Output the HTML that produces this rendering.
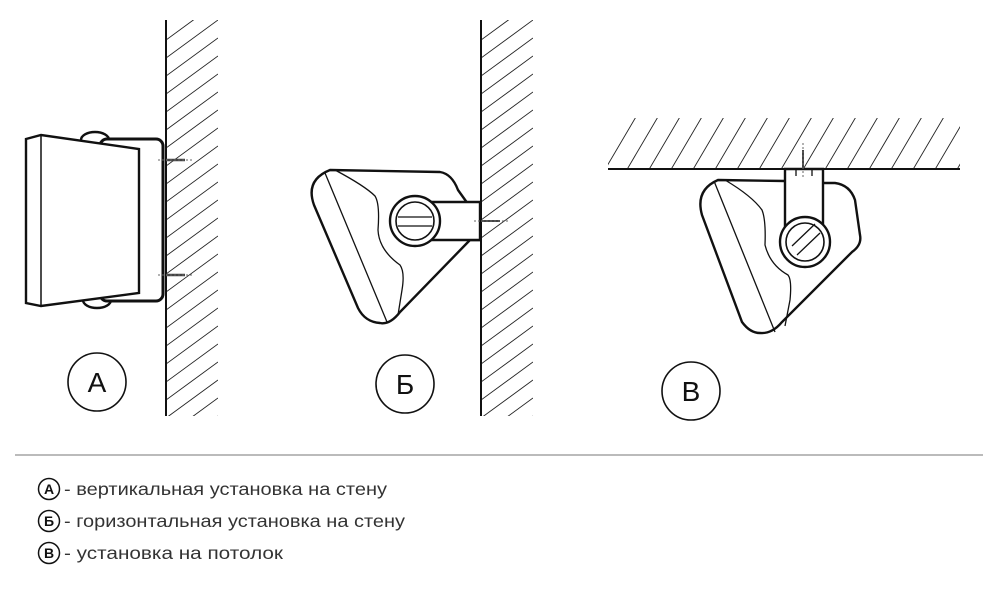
<!DOCTYPE html>
<html><head><meta charset="utf-8"><style>
html,body{margin:0;padding:0;background:#fff;width:1000px;height:603px;overflow:hidden}
svg{display:block}
</style></head><body>
<svg width="1000" height="603" viewBox="0 0 1000 603" xmlns="http://www.w3.org/2000/svg">
<defs>
<clipPath id="wa"><rect x="166" y="20" width="52" height="396"/></clipPath>
<clipPath id="wb"><rect x="481" y="20" width="52" height="396"/></clipPath>
<clipPath id="wc"><rect x="608" y="118" width="352" height="50"/></clipPath>
</defs>
<g stroke="#222" stroke-width="0.9" fill="none">
<g clip-path="url(#wa)">
<g id="h1">
<line x1="166" y1="40" x2="218" y2="2"/><line x1="166" y1="58" x2="218" y2="20"/><line x1="166" y1="76" x2="218" y2="38"/><line x1="166" y1="94" x2="218" y2="56"/><line x1="166" y1="112" x2="218" y2="74"/><line x1="166" y1="130" x2="218" y2="92"/><line x1="166" y1="148" x2="218" y2="110"/><line x1="166" y1="166" x2="218" y2="128"/><line x1="166" y1="184" x2="218" y2="146"/><line x1="166" y1="202" x2="218" y2="164"/><line x1="166" y1="220" x2="218" y2="182"/><line x1="166" y1="238" x2="218" y2="200"/><line x1="166" y1="256" x2="218" y2="218"/><line x1="166" y1="274" x2="218" y2="236"/><line x1="166" y1="292" x2="218" y2="254"/><line x1="166" y1="310" x2="218" y2="272"/><line x1="166" y1="328" x2="218" y2="290"/><line x1="166" y1="346" x2="218" y2="308"/><line x1="166" y1="364" x2="218" y2="326"/><line x1="166" y1="382" x2="218" y2="344"/><line x1="166" y1="400" x2="218" y2="362"/><line x1="166" y1="418" x2="218" y2="380"/><line x1="166" y1="436" x2="218" y2="398"/><line x1="166" y1="454" x2="218" y2="416"/>
</g>
</g>
<g clip-path="url(#wb)"><use href="#h1" transform="translate(315,0)"/></g>
<g clip-path="url(#wc)">
<line x1="600" y1="178" x2="640" y2="110"/><line x1="622" y1="178" x2="662" y2="110"/><line x1="644" y1="178" x2="684" y2="110"/><line x1="666" y1="178" x2="706" y2="110"/><line x1="688" y1="178" x2="728" y2="110"/><line x1="710" y1="178" x2="750" y2="110"/><line x1="732" y1="178" x2="772" y2="110"/><line x1="754" y1="178" x2="794" y2="110"/><line x1="776" y1="178" x2="816" y2="110"/><line x1="798" y1="178" x2="838" y2="110"/><line x1="820" y1="178" x2="860" y2="110"/><line x1="842" y1="178" x2="882" y2="110"/><line x1="864" y1="178" x2="904" y2="110"/><line x1="886" y1="178" x2="926" y2="110"/><line x1="908" y1="178" x2="948" y2="110"/><line x1="930" y1="178" x2="970" y2="110"/><line x1="952" y1="178" x2="992" y2="110"/>
</g>
</g>
<g stroke="#111" fill="none" stroke-width="2">
<line x1="166" y1="20" x2="166" y2="416"/>
<line x1="481" y1="20" x2="481" y2="416"/>
<line x1="608" y1="169" x2="960" y2="169"/>
</g>
<!-- Device A -->
<g stroke="#111" fill="#fff" stroke-width="2.4">
<ellipse cx="95" cy="140" rx="14" ry="8"/>
<ellipse cx="97" cy="300" rx="14" ry="8"/>
<rect x="100" y="139" width="63" height="162" rx="7" stroke-width="3"/>
<path d="M26,139 L41,135 L139,149 L139,293 L41,306 L26,303 Z"/>
<line x1="41" y1="135" x2="41" y2="306" stroke-width="1.5"/>
</g>
<g stroke="#444" stroke-width="2.5">
<line x1="166" y1="160" x2="185" y2="160"/><line x1="166" y1="275" x2="185" y2="275"/>
</g>
<g stroke="#666" stroke-width="1" stroke-dasharray="2 2">
<line x1="158" y1="160" x2="193" y2="160"/><line x1="158" y1="275" x2="193" y2="275"/>
</g>
<!-- Device B -->
<g stroke="#111" fill="#fff" stroke-width="2.4">
<path d="M330,170 L440,172 Q452,174 458,190 L468,204 L480,204 L480,240 L470,240 L400,312 Q390,325 380,323 Q365,322 358,308 L314,205 Q305,180 330,170 Z"/>
<path d="M430,202 L480,202 L480,240 L430,240 Z"/>
<circle cx="415" cy="221" r="25"/>
<circle cx="415" cy="221" r="19" stroke-width="1.6"/>
</g>
<g stroke="#111" fill="none" stroke-width="1.3">
<line x1="398" y1="217" x2="432" y2="217"/><line x1="398" y1="226" x2="432" y2="226"/>
<line x1="325" y1="173" x2="387" y2="322"/>
<path d="M335,170 Q365,186 375,196 Q380,204 378,230 Q379,250 400,265 Q405,272 402,290 L398,315"/>
</g>
<g stroke="#444" stroke-width="2"><line x1="481" y1="221" x2="500" y2="221"/></g>
<g stroke="#666" stroke-width="1" stroke-dasharray="2 2"><line x1="474" y1="221" x2="508" y2="221"/></g>
<!-- Device C -->
<g stroke="#111" fill="#fff" stroke-width="2.4">
<path d="M718,180 L785,181 L823,183 L835,183 Q850,185 855,200 L860,235 Q862,245 852,252 L782,322 Q772,334 760,333 Q750,333 742,322 L702,215 Q695,190 718,180 Z"/>
<path d="M785,169 L823,169 L823,230 L785,230 Z"/>
<circle cx="805" cy="242" r="25"/>
<circle cx="805" cy="242" r="19" stroke-width="1.6"/>
</g>
<g stroke="#111" fill="none" stroke-width="1.3">
<line x1="792" y1="246" x2="815" y2="224"/><line x1="797" y1="255" x2="820" y2="233"/>
<line x1="714" y1="181" x2="775" y2="332"/>
<path d="M725,180 Q752,196 762,210 Q766,220 765,245 Q770,265 788,275 Q792,280 790,300 L785,326"/>
<line x1="796" y1="170" x2="796" y2="176"/><line x1="812" y1="170" x2="812" y2="176"/>
</g>
<g stroke="#444" stroke-width="2"><line x1="803" y1="150" x2="803" y2="168"/></g>
<g stroke="#666" stroke-width="1" stroke-dasharray="2 2"><line x1="803" y1="143" x2="803" y2="178"/></g>
<!-- labels -->
<g stroke="#111" fill="none" stroke-width="1.6">
<circle cx="97" cy="382" r="29"/>
<circle cx="405" cy="384" r="29"/>
<circle cx="691" cy="391" r="29"/>
</g>
<g font-family="Liberation Sans, sans-serif" font-size="28" fill="#111" text-anchor="middle">
<text x="97" y="392">A</text>
<text x="405" y="394">Б</text>
<text x="691" y="401">В</text>
</g>
<line x1="15" y1="455" x2="983" y2="455" stroke="#777" stroke-width="1"/>
<g stroke="#111" fill="none" stroke-width="1.5">
<circle cx="49" cy="489" r="10.5"/><circle cx="49" cy="521" r="10.5"/><circle cx="49" cy="553" r="10.5"/>
</g>
<g font-family="Liberation Sans, sans-serif" font-size="14" font-weight="bold" fill="#111" text-anchor="middle">
<text x="49" y="494">A</text><text x="49" y="526">Б</text><text x="49" y="558">В</text>
</g>
<g font-family="Liberation Sans, sans-serif" font-size="17.5" fill="#333">
<text x="64" y="495" textLength="323" lengthAdjust="spacingAndGlyphs">- вертикальная установка на стену</text>
<text x="64" y="527" textLength="341" lengthAdjust="spacingAndGlyphs">- горизонтальная установка на стену</text>
<text x="64" y="559" textLength="219" lengthAdjust="spacingAndGlyphs">- установка на потолок</text>
</g>
</svg>
</body></html>
